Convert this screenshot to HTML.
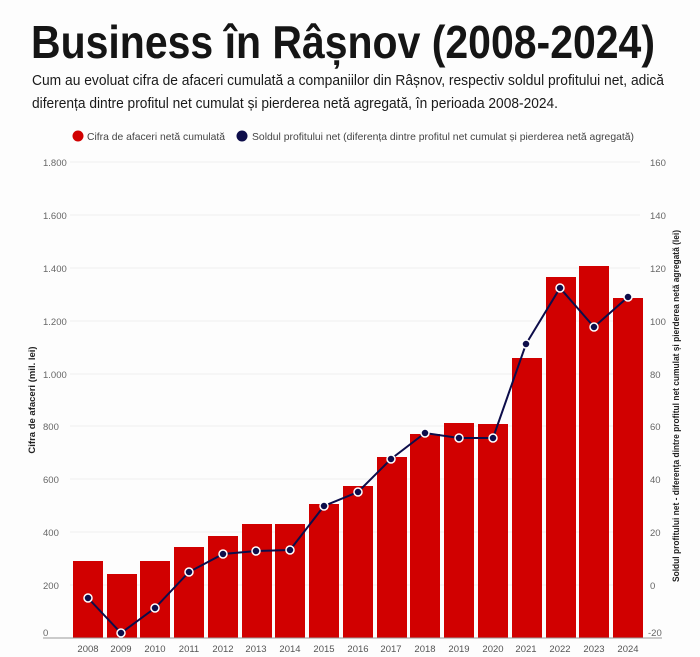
<!DOCTYPE html>
<html><head><meta charset="utf-8"><style>
html,body{margin:0;padding:0;background:#fdfdfd;}
svg{display:block;font-family:"Liberation Sans",sans-serif;}
</style></head><body>
<svg width="700" height="657" viewBox="0 0 700 657" xmlns="http://www.w3.org/2000/svg">
<rect width="700" height="657" fill="#fdfdfd"/>
<text x="31" y="58" font-size="46" font-weight="bold" fill="#151515" textLength="624" lengthAdjust="spacingAndGlyphs">Business în Râșnov (2008-2024)</text>
<text x="32" y="85" font-size="14.5" fill="#1a1a1a" textLength="632" lengthAdjust="spacingAndGlyphs">Cum au evoluat cifra de afaceri cumulată a companiilor din Râșnov, respectiv soldul profitului net, adică</text>
<text x="32" y="108" font-size="14.5" fill="#1a1a1a" textLength="526" lengthAdjust="spacingAndGlyphs">diferența dintre profitul net cumulat și pierderea netă agregată, în perioada 2008-2024.</text>
<circle cx="78" cy="136" r="5.5" fill="#d10000"/>
<text x="87" y="140" font-size="10.5" fill="#444" textLength="138" lengthAdjust="spacingAndGlyphs">Cifra de afaceri netă cumulată</text>
<circle cx="242" cy="136" r="5.5" fill="#0d0d4a"/>
<text x="252" y="140" font-size="10.5" fill="#444" textLength="382" lengthAdjust="spacingAndGlyphs">Soldul profitului net (diferența dintre profitul net cumulat și pierderea netă agregată)</text>
<g stroke="#f0f0f0" stroke-width="1">
<line x1="70" x2="640" y1="162" y2="162"/><line x1="70" x2="640" y1="215" y2="215"/><line x1="70" x2="640" y1="268" y2="268"/><line x1="70" x2="640" y1="321" y2="321"/><line x1="70" x2="640" y1="374" y2="374"/><line x1="70" x2="640" y1="426" y2="426"/><line x1="70" x2="640" y1="479" y2="479"/><line x1="70" x2="640" y1="532" y2="532"/><line x1="70" x2="640" y1="585" y2="585"/>
</g>
<g font-size="9.5" fill="#666">
<text x="43" y="166">1.800</text><text x="43" y="219">1.600</text><text x="43" y="272">1.400</text><text x="43" y="325">1.200</text><text x="43" y="378">1.000</text><text x="43" y="430">800</text><text x="43" y="483">600</text><text x="43" y="536">400</text><text x="43" y="589">200</text><text x="43" y="636">0</text>
<text x="650" y="166">160</text><text x="650" y="219">140</text><text x="650" y="272">120</text><text x="650" y="325">100</text><text x="650" y="378">80</text><text x="650" y="430">60</text><text x="650" y="483">40</text><text x="650" y="536">20</text><text x="650" y="589">0</text><text x="648" y="636">-20</text>
</g>
<text transform="translate(35,400) rotate(-90)" font-size="9.5" font-weight="bold" fill="#222" text-anchor="middle">Cifra de afaceri (mil. lei)</text>
<text transform="translate(679,406) rotate(-90)" font-size="9.5" font-weight="bold" fill="#222" text-anchor="middle" textLength="352" lengthAdjust="spacingAndGlyphs">Soldul profitului net - diferența dintre profitul net cumulat și pierderea netă agregată (lei)</text>
<g fill="#d10000">
<rect x="73" y="561" width="30" height="77"/>
<rect x="107" y="574" width="30" height="64"/>
<rect x="140" y="561" width="30" height="77"/>
<rect x="174" y="547" width="30" height="91"/>
<rect x="208" y="536" width="30" height="102"/>
<rect x="242" y="524" width="30" height="114"/>
<rect x="275" y="524" width="30" height="114"/>
<rect x="309" y="504" width="30" height="134"/>
<rect x="343" y="486" width="30" height="152"/>
<rect x="377" y="457" width="30" height="181"/>
<rect x="410" y="434" width="30" height="204"/>
<rect x="444" y="423" width="30" height="215"/>
<rect x="478" y="424" width="30" height="214"/>
<rect x="512" y="358" width="30" height="280"/>
<rect x="546" y="277" width="30" height="361"/>
<rect x="579" y="266" width="30" height="372"/>
<rect x="613" y="298" width="30" height="340"/>
</g>
<line x1="43" x2="662" y1="638" y2="638" stroke="#999" stroke-width="1"/>
<polyline fill="none" stroke="#0d0d4a" stroke-width="2" points="88,598 121,633 155,608 189,572 223,554 256,551 290,550 324,506 358,492 391,459 425,433 459,438 493,438 526,344 560,288 594,327 628,297"/>
<g fill="#0d0d4a" stroke="#fff" stroke-width="1.5">
<circle cx="88" cy="598" r="4"/><circle cx="121" cy="633" r="4"/><circle cx="155" cy="608" r="4"/><circle cx="189" cy="572" r="4"/><circle cx="223" cy="554" r="4"/><circle cx="256" cy="551" r="4"/><circle cx="290" cy="550" r="4"/><circle cx="324" cy="506" r="4"/><circle cx="358" cy="492" r="4"/><circle cx="391" cy="459" r="4"/><circle cx="425" cy="433" r="4"/><circle cx="459" cy="438" r="4"/><circle cx="493" cy="438" r="4"/><circle cx="526" cy="344" r="4"/><circle cx="560" cy="288" r="4"/><circle cx="594" cy="327" r="4"/><circle cx="628" cy="297" r="4"/>
</g>
<g font-size="9.5" fill="#555" text-anchor="middle">
<text x="88" y="652">2008</text><text x="121" y="652">2009</text><text x="155" y="652">2010</text><text x="189" y="652">2011</text><text x="223" y="652">2012</text><text x="256" y="652">2013</text><text x="290" y="652">2014</text><text x="324" y="652">2015</text><text x="358" y="652">2016</text><text x="391" y="652">2017</text><text x="425" y="652">2018</text><text x="459" y="652">2019</text><text x="493" y="652">2020</text><text x="526" y="652">2021</text><text x="560" y="652">2022</text><text x="594" y="652">2023</text><text x="628" y="652">2024</text>
</g>
</svg>
</body></html>
